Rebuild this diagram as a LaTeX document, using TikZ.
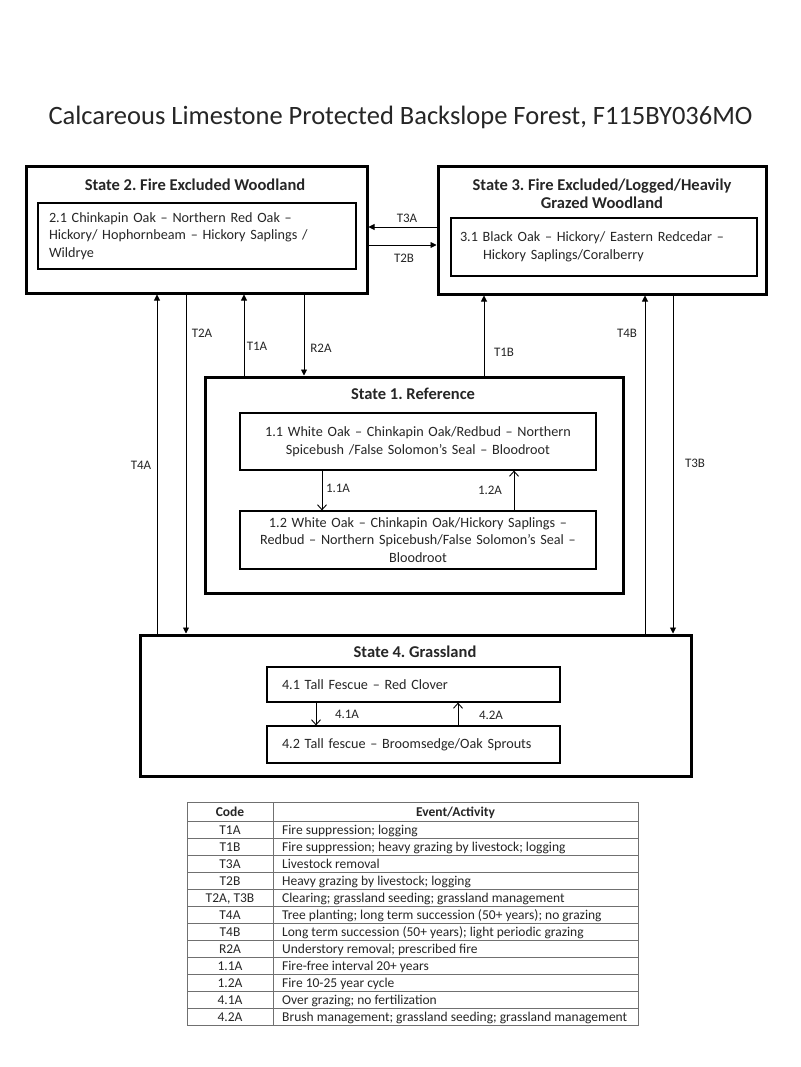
\documentclass[tikz,border=0pt]{standalone}
\usepackage{fontspec}
\setmainfont{Carlito}
\usetikzlibrary{arrows.meta}
\definecolor{txt}{HTML}{262626}
\definecolor{tline}{HTML}{707070}
\begin{document}
\begin{tikzpicture}[x=1pt,y=-1pt,
  every node/.style={text=txt},
  statebox/.style={draw=black, line width=3pt, inner sep=0pt},
  phasebox/.style={draw=black, line width=1.2pt, inner sep=0pt, font=\fontsize{14.2}{17.5}\selectfont},
  sttitle/.style={font=\fontsize{16.5}{18}\selectfont\bfseries, align=center, inner sep=0pt},
  lab/.style={font=\fontsize{13}{15}\selectfont, inner sep=0pt},
  tr/.style={draw=black, line width=0.9pt, -{Triangle[length=6pt,width=6pt]}},
  ph/.style={draw=black, line width=0.9pt, -{Straight Barb[length=5pt,width=9pt]}},
  tcell/.style={font=\fontsize{13.5}{15}\selectfont, inner sep=0pt, anchor=base},
  tev/.style={font=\fontsize{13.5}{15}\selectfont, inner sep=0pt, anchor=base west},
  thead/.style={font=\fontsize{13.5}{15}\selectfont\bfseries, inner sep=0pt, anchor=base}
]
\useasboundingbox[fill=white] (0,0) rectangle (800,1067);

% title
\node[font=\fontsize{26.5}{30}\selectfont, inner sep=0pt] (title) at (400.5,117) {Calcareous Limestone Protected Backslope Forest, F115BY036MO};

% states
\node[statebox, minimum width=341pt, minimum height=126pt] (s2) at (196.5,230) {};
\node[statebox, minimum width=328pt, minimum height=127pt] (s3) at (602,230.5) {};
\node[statebox, minimum width=418pt, minimum height=216pt] (s1) at (414,485) {};
\node[statebox, minimum width=551pt, minimum height=141pt] (s4) at (415.5,705.5) {};

\node[sttitle] (t2) at (195,185) {State 2.\ Fire Excluded Woodland};
\node[sttitle] (t3) at (602,194) {State 3.\ Fire Excluded/Logged/Heavily\\Grazed Woodland};
\node[sttitle] (t1) at (413,394) {State 1.\ Reference};
\node[sttitle] (t4) at (415,652) {State 4.\ Grassland};

% phases
\node[phasebox, minimum width=318pt, minimum height=66pt, text width=296pt, align=left] (p21) at (197,236)
  {2.1 Chinkapin Oak -- Northern Red Oak --\\Hickory/ Hophornbeam -- Hickory Saplings /\\Wildrye};
\node[phasebox, minimum width=306pt, minimum height=58pt, text width=288pt, align=left] (p31) at (604,247)
  {3.1 Black Oak -- Hickory/ Eastern Redcedar --\\\hspace*{23pt}Hickory Saplings/Coralberry};
\node[phasebox, minimum width=356pt, minimum height=57pt, text width=340pt, align=center] (p11) at (418,441.5)
  {1.1 White Oak -- Chinkapin Oak/Redbud -- Northern\\Spicebush /False Solomon’s Seal -- Bloodroot};
\node[phasebox, minimum width=356pt, minimum height=58pt, text width=340pt, align=center] (p12) at (418,540)
  {1.2 White Oak -- Chinkapin Oak/Hickory Saplings --\\Redbud -- Northern Spicebush/False Solomon’s Seal --\\Bloodroot};
\node[phasebox, minimum width=293pt, minimum height=35pt, text width=263pt, align=left] (p41) at (413.5,684.5)
  {4.1 Tall Fescue -- Red Clover};
\node[phasebox, minimum width=293pt, minimum height=37pt, text width=263pt, align=left] (p42) at (413.5,744.5)
  {4.2 Tall fescue -- Broomsedge/Oak Sprouts};

% x positions of vertical connectors, y positions of horizontal ones
\coordinate (xT4A) at (157,0);
\coordinate (xT2A) at (186,0);
\coordinate (xT1A) at (244,0);
\coordinate (xR2A) at (304,0);
\coordinate (xT1B) at (484,0);
\coordinate (xT4B) at (645,0);
\coordinate (xT3B) at (673,0);
\coordinate (x11A) at (322,0);
\coordinate (x12A) at (514,0);
\coordinate (x41A) at (316,0);
\coordinate (x42A) at (458,0);
\coordinate (yT3A) at (0,227);
\coordinate (yT2B) at (0,245);

% transitions
\draw[tr] (s3.west |- yT3A) -- (s2.east |- yT3A);
\draw[tr] (s2.east |- yT2B) -- (s3.west |- yT2B);
\draw[tr] (xT4A |- s4.north) -- (xT4A |- s2.south);
\draw[tr] (xT2A |- s2.south) -- (xT2A |- s4.north);
\draw[tr] (xT1A |- s1.north) -- (xT1A |- s2.south);
\draw[tr] (xR2A |- s2.south) -- (xR2A |- s1.north);
\draw[tr] (xT1B |- s1.north) -- (xT1B |- s3.south);
\draw[tr] (xT4B |- s4.north) -- (xT4B |- s3.south);
\draw[tr] (xT3B |- s3.south) -- (xT3B |- s4.north);
\draw[ph] (x11A |- p11.south) -- (x11A |- p12.north);
\draw[ph] (x12A |- p12.north) -- (x12A |- p11.south);
\draw[ph] (x41A |- p41.south) -- (x41A |- p42.north);
\draw[ph] (x42A |- p42.north) -- (x42A |- p41.south);

% labels
\node[lab] (lT3A) at (407,218) {T3A};
\node[lab] (lT2B) at (404,258) {T2B};
\node[lab] (lT4A) at (141,465) {T4A};
\node[lab] (lT2A) at (202,333) {T2A};
\node[lab] (lT1A) at (257,346) {T1A};
\node[lab] (lR2A) at (321,348) {R2A};
\node[lab] (lT1B) at (504,352) {T1B};
\node[lab] (lT4B) at (627,333) {T4B};
\node[lab] (lT3B) at (695,463) {T3B};
\node[lab] (l11A) at (338,488) {1.1A};
\node[lab] (l12A) at (490,490) {1.2A};
\node[lab] (l41A) at (347,714) {4.1A};
\node[lab] (l42A) at (491,715) {4.2A};

% table
\draw[tline, line width=0.8pt] (187,802) rectangle (638,1025);
\draw[tline, line width=0.8pt] (273,802) -- (273,1025);
\foreach \y in {821,838,855,872,889,906,923,940,957,974,991,1008}
  \draw[tline, line width=0.8pt] (187,\y) -- (638,\y);
\node[thead] (hcode) at (230,816) {Code};
\node[thead] (hev) at (455.5,816) {Event/Activity};
\node[tcell] (c1) at (230,834) {T1A};
\node[tcell] (c2) at (230,851) {T1B};
\node[tcell] (c3) at (230,868) {T3A};
\node[tcell] (c4) at (230,885) {T2B};
\node[tcell] (c5) at (230,902) {T2A, T3B};
\node[tcell] (c6) at (230,919) {T4A};
\node[tcell] (c7) at (230,936) {T4B};
\node[tcell] (c8) at (230,953) {R2A};
\node[tcell] (c9) at (230,970) {1.1A};
\node[tcell] (c10) at (230,987) {1.2A};
\node[tcell] (c11) at (230,1004) {4.1A};
\node[tcell] (c12) at (230,1021) {4.2A};
\node[tev] (e1) at (282,834) {Fire suppression; logging};
\node[tev] (e2) at (282,851) {Fire suppression; heavy grazing by livestock; logging};
\node[tev] (e3) at (282,868) {Livestock removal};
\node[tev] (e4) at (282,885) {Heavy grazing by livestock; logging};
\node[tev] (e5) at (282,902) {Clearing; grassland seeding; grassland management};
\node[tev] (e6) at (282,919) {Tree planting; long term succession (50+ years); no grazing};
\node[tev] (e7) at (282,936) {Long term succession (50+ years); light periodic grazing};
\node[tev] (e8) at (282,953) {Understory removal; prescribed fire};
\node[tev] (e9) at (282,970) {Fire-free interval 20+ years};
\node[tev] (e10) at (282,987) {Fire 10-25 year cycle};
\node[tev] (e11) at (282,1004) {Over grazing; no fertilization};
\node[tev] (e12) at (282,1021) {Brush management; grassland seeding; grassland management};
\end{tikzpicture}
\end{document}
